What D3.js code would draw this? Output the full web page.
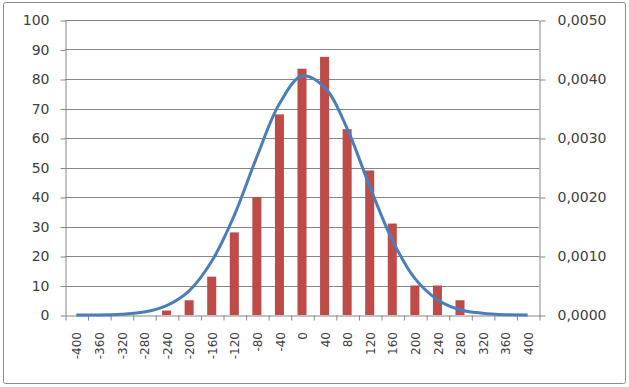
<!DOCTYPE html>
<html>
<head>
<meta charset="utf-8">
<style>
  body { margin: 0; background: #fff; }
  svg { display: block; }
  svg text { font-family: "DejaVu Sans", sans-serif; }
</style>
</head>
<body>
<div id="graphic"></div>
<script src="https://d3js.org/d3.v7.min.js"></script>
<script>
// categories on the x axis
var categories = [-400, -360, -320, -280, -240, -200, -160, -120, -80, -40, 0,
                  40, 80, 120, 160, 200, 240, 280, 320, 360, 400];
// bar heights (left axis)
var counts = [0, 0, 0, 0, 1.5, 5, 13, 28, 40, 68, 83.5,
              87.5, 63, 49, 31, 10, 10, 5, 0, 0, 0];
// smooth density curve (right axis)
var density = [0, 0.000001, 0.000014, 0.00005, 0.00016, 0.00041, 0.00091, 0.00169, 0.00268, 0.00358, 0.00405,
               0.00386, 0.00316, 0.00218, 0.00127, 0.00062, 0.00026, 0.00009, 0.00003, 0.000005, 0.000001];
var leftTicks = [0, 10, 20, 30, 40, 50, 60, 70, 80, 90, 100];
var rightTicks = [0, 0.001, 0.002, 0.003, 0.004, 0.005];

var W = 629, H = 387;
var plot = { left: 65, right: 539, top: 20, bottom: 315 };
var grey = "#868686", textCol = "#404040";

var svg = d3.select("#graphic").append("svg")
    .attr("width", W)
    .attr("height", H);

// outer frame
svg.append("rect")
    .attr("x", 3.5).attr("y", 2.5)
    .attr("width", 622).attr("height", 381)
    .attr("rx", 2)
    .attr("fill", "#fff")
    .attr("stroke", "#8c8c8c");

var x = d3.scaleBand()
    .domain(categories)
    .range([plot.left, plot.right])
    .paddingInner(0.6)
    .paddingOuter(0.3);

var xEdges = d3.scaleLinear()
    .domain([0, categories.length])
    .range([plot.left, plot.right]);

var y = d3.scaleLinear().domain([0, 100]).range([plot.bottom, plot.top]);
var y2 = d3.scaleLinear().domain([0, 0.005]).range([plot.bottom, plot.top]);

// gridlines
svg.append("g")
    .selectAll("line")
    .data(leftTicks.slice(1))
    .enter().append("line")
    .attr("x1", plot.left).attr("x2", plot.right)
    .attr("y1", function (d) { return Math.round(y(d)) + 0.5; })
    .attr("y2", function (d) { return Math.round(y(d)) + 0.5; })
    .attr("stroke", grey);

// left axis
var gy = svg.append("g")
    .attr("transform", "translate(" + (plot.left + 0.5) + ",0.5)")
    .call(d3.axisLeft(y).tickValues(leftTicks).tickSizeInner(5).tickSizeOuter(0).tickPadding(11));

// right axis
var gy2 = svg.append("g")
    .attr("transform", "translate(" + (plot.right + 0.5) + ",0.5)")
    .call(d3.axisRight(y2).tickValues(rightTicks).tickSizeInner(6).tickSizeOuter(0).tickPadding(12)
        .tickFormat(function (d) { return d3.format(".4f")(d).replace(".", ","); }));

[gy, gy2].forEach(function (g) {
    g.attr("font-family", null);
    g.selectAll("path, line").attr("stroke", grey);
    g.selectAll("text").attr("fill", textCol).style("font-size", "14px");
});

// bottom axis: tick marks at category edges
var gTicks = svg.append("g")
    .attr("transform", "translate(0.5," + (plot.bottom + 0.5) + ")")
    .call(d3.axisBottom(xEdges).ticks(categories.length).tickFormat("").tickSizeInner(5).tickSizeOuter(0));
gTicks.selectAll("path, line").attr("stroke", grey);

// bottom axis labels, rotated
var gx = svg.append("g")
    .attr("transform", "translate(0," + plot.bottom + ")")
    .call(d3.axisBottom(x).tickSize(0).tickPadding(0));
gx.attr("font-family", null);
gx.select(".domain").remove();
gx.selectAll("text")
    .attr("fill", textCol)
    .style("font-size", "12px")
    .attr("text-anchor", "end")
    .attr("dy", "0.35em")
    .attr("transform", "translate(1,17) rotate(-90)");

// bars
svg.append("g")
    .selectAll("rect")
    .data(categories.map(function (c, i) { return { cat: c, count: counts[i] }; }))
    .enter().append("rect")
    .attr("x", function (d) { return x(d.cat); })
    .attr("width", x.bandwidth())
    .attr("y", function (d) { return y(d.count); })
    .attr("height", function (d) { return plot.bottom - y(d.count); })
    .attr("fill", "#BE4B48");

// density curve
var line = d3.line()
    .x(function (d, i) { return x(categories[i]) + x.bandwidth() / 2; })
    .y(function (d) { return y2(d); })
    .curve(d3.curveCatmullRom);

svg.append("path")
    .datum(density)
    .attr("d", line)
    .attr("fill", "none")
    .attr("stroke", "#4A7EBB")
    .attr("stroke-width", 3);
</script>
</body>
</html>
